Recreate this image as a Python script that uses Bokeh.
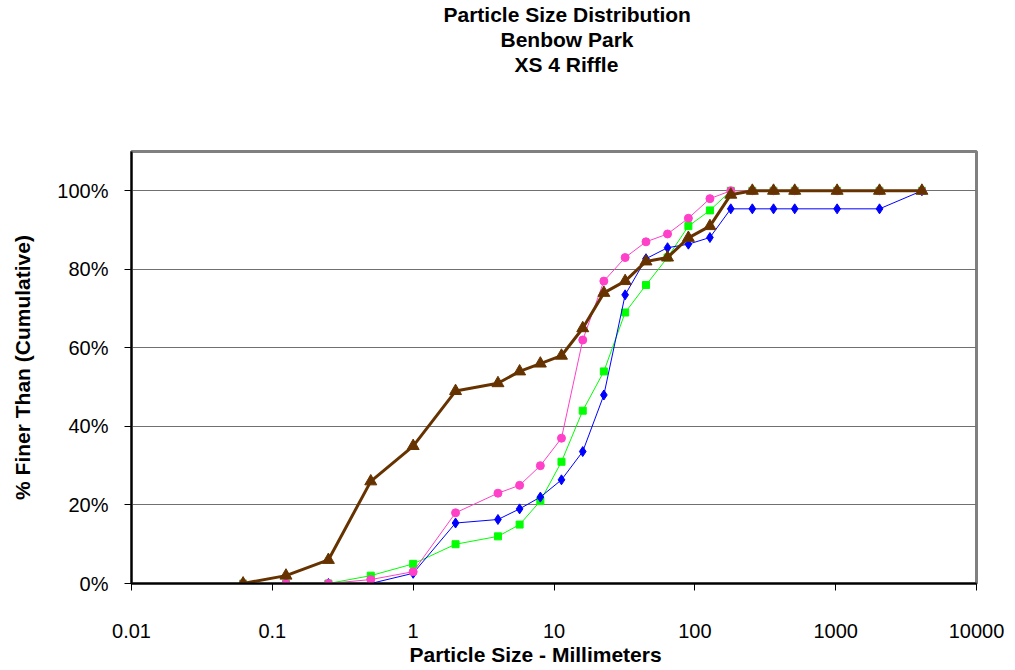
from bokeh.plotting import figure
from bokeh.models import Range1d, FixedTicker, Title, ColumnDataSource
from bokeh.embed import file_html
from bokeh.resources import INLINE

sizes = [0.062, 0.125, 0.25, 0.5, 1, 2, 4, 5.7, 8, 11.3, 16, 22.6, 32, 45, 64, 90,
         128, 180, 256, 362, 512, 1024, 2048, 4096]

green = [0, 0, 0, 2, 5, 10, 12, 15, 21, 31, 44, 54, 69, 76, 83, 91,
         95, 100, 100, 100, 100, 100, 100, 100]
blue = [0, 0, 0, 0, 2.6, 15.4, 16.3, 19, 22, 26.4, 33.6, 48, 73.5, 82.7, 85.5, 86.4,
        88.1, 95.4, 95.4, 95.4, 95.4, 95.4, 95.4, 100]
magenta = [0, 0, 0, 1, 3, 18, 23, 25, 30, 37, 62, 77, 83, 87, 89, 93,
           98, 100, 100, 100, 100, 100, 100, 100]
brown = [0, 2, 6, 26, 35, 49, 51, 54, 56, 58, 65, 74, 77, 82, 83, 88,
         91, 99, 100, 100, 100, 100, 100, 100]

x_ticks = [0.01, 0.1, 1, 10, 100, 1000, 10000]
x_tick_labels = ["0.01", "0.1", "1", "10", "100", "1000", "10000"]
y_ticks = [0, 20, 40, 60, 80, 100]
y_tick_labels = ["0%", "20%", "40%", "60%", "80%", "100%"]

title_lines = ["Particle Size Distribution", "Benbow Park", "XS 4 Riffle"]
x_label = "Particle Size - Millimeters"
y_label = "% Finer Than (Cumulative)"

FONT = "Liberation Sans"

p = figure(frame_width=845, frame_height=432, x_axis_type="log",
           x_range=Range1d(0.01, 10000), y_range=Range1d(0, 110),
           output_backend="svg", toolbar_location=None,
           min_border_left=131, min_border_right=30, min_border_top=10,
           min_border_bottom=0, background_fill_color="white",
           border_fill_color="white")

p.outline_line_color = "#808080"
p.outline_line_width = 3

p.xgrid.visible = False
p.ygrid.grid_line_color = "#707070"
p.ygrid.grid_line_width = 1
p.ygrid.ticker = FixedTicker(ticks=y_ticks)

p.xaxis.ticker = FixedTicker(ticks=x_ticks)
p.xaxis.major_label_overrides = {t: l for t, l in zip(x_ticks, x_tick_labels)}
p.yaxis.ticker = FixedTicker(ticks=y_ticks)
p.yaxis.major_label_overrides = {t: l for t, l in zip(y_ticks, y_tick_labels)}

for ax in (p.xaxis, p.yaxis):
    ax.axis_line_color = "black"
    ax.axis_line_width = 2
    ax.major_tick_line_color = "black"
    ax.major_tick_line_width = 1
    ax.major_tick_in = 0
    ax.major_tick_out = 7
    ax.minor_tick_line_color = None
    ax.major_label_text_font = FONT
    ax.major_label_text_font_size = "20px"
    ax.major_label_text_color = "black"
    ax.axis_label_text_font = FONT
    ax.axis_label_text_font_size = "21px"
    ax.axis_label_text_font_style = "bold"
    ax.axis_label_text_color = "black"

p.yaxis.axis_label = y_label
p.xaxis.major_label_standoff = 33
p.yaxis.major_label_standoff = 16
p.yaxis.axis_label_standoff = 20

src = ColumnDataSource(dict(x=sizes, g=green, b=blue, m=magenta, br=brown))

p.line("x", "g", source=src, line_color="#00FF00", line_width=1)
p.scatter("x", "g", source=src, marker="square", size=7, fill_color="#00FF00", line_color="#00FF00")

p.line("x", "b", source=src, line_color="#0000FF", line_width=1)
p.scatter("x", "b", source=src, marker="diamond", size=10, fill_color="#0000FF", line_color="#0000FF")

p.line("x", "m", source=src, line_color="#FF40C8", line_width=1)
p.scatter("x", "m", source=src, marker="circle", size=8, fill_color="#FF40C8", line_color="#FF40C8")

p.line("x", "br", source=src, line_color="#663300", line_width=3)
p.scatter("x", "br", source=src, marker="triangle", size=12, fill_color="#663300", line_color="#663300")

# x axis title, placed as a title below the axis (left-aligned with an offset)
p.add_layout(Title(text=x_label, align="left", offset=278, standoff=0,
                   text_font=FONT, text_font_size="21px", text_font_style="bold",
                   text_color="black"), "below")

# spacer between the title block and the plot frame (innermost "above" item)
p.add_layout(Title(text=" ", standoff=51, text_font=FONT, text_font_size="21px"), "above")
title_offsets = [312, 369, 383]
for t, off in reversed(list(zip(title_lines, title_offsets))):
    p.add_layout(Title(text=t, align="left", offset=off, standoff=0,
                       text_font=FONT, text_font_size="21px",
                       text_font_style="bold", text_color="black"), "above")

open("out.html", "w").write(file_html(p, INLINE))
